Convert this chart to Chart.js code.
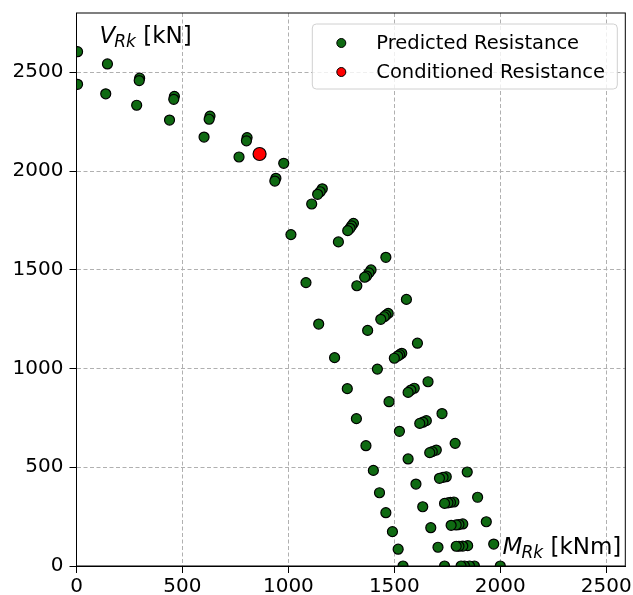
<!DOCTYPE html>
<html>
<head>
<meta charset="utf-8">
<script src="https://cdn.jsdelivr.net/npm/chart.js@4"></script>
<style>
  html, body { margin: 0; padding: 0; background: #fff; }
  #wrap { width: 633px; height: 595px; }
</style>
</head>
<body>
<div id="wrap"><canvas id="chart"></canvas></div>
<script>
// M_Rk [kNm] / V_Rk [kN]
const predictedM = [
  5, 5, 146, 138, 298, 296, 284, 462, 459, 439, 630, 626, 602, 805, 802, 767, 978, 941, 936,
  1160, 1150, 1138, 1110, 1012, 1307, 1298, 1291, 1280, 1236, 1460, 1390, 1380, 1369, 1360,
  1323, 1083, 1557, 1471, 1460, 1452, 1436, 1143, 1374, 1609, 1535, 1525, 1516, 1500, 1218,
  1420, 1659, 1594, 1578, 1565, 1278, 1475, 1725, 1651, 1635, 1620, 1321, 1524, 1787, 1698,
  1679, 1667, 1366, 1565, 1844, 1745, 1730, 1713, 1401, 1602, 1430, 1893, 1781, 1765, 1753,
  1737, 1634, 1460, 1934, 1823, 1805, 1792, 1768, 1672, 1491, 1969, 1846, 1823, 1805, 1792,
  1706, 1518, 2000, 1878, 1855, 1831, 1815, 1737, 1541
]
const predictedV = [
  2604, 2439, 2542, 2391, 2470, 2458, 2333, 2378, 2363, 2258, 2278, 2262, 2172, 2169, 2153, 2071, 2039, 1963, 1949,
  1910, 1895, 1882, 1833, 1678, 1735, 1722, 1710, 1698, 1641, 1563, 1499, 1484, 1468, 1462,
  1419, 1435, 1350, 1279, 1270, 1262, 1249, 1225, 1193, 1128, 1077, 1070, 1063, 1052, 1055,
  997, 933, 900, 891, 879, 898, 832, 772, 736, 728, 722, 746, 682, 621, 587,
  579, 574, 609, 542, 476, 452, 449, 444, 484, 415, 371, 348, 324, 322, 320,
  317, 300, 270, 224, 213, 210, 208, 206, 194, 174, 111, 103, 101, 100, 100,
  95, 85, 0, 0, 0, 0, 0, 0, 0
]
const conditionedM = [864]
const conditionedV = [2086]

const xTicks = [0, 500, 1000, 1500, 2000, 2500]
const yTicks = [0, 500, 1000, 1500, 2000, 2500]

const legendLabels = ['Predicted Resistance', 'Conditioned Resistance']

const FONT = '"DejaVu Sans", sans-serif'

function toPoints(xs, ys) {
  return xs.map((x, i) => ({ x: x, y: ys[i] }))
}

// italic symbol + italic subscript + upright unit
function drawMathLabel(ctx, x, y, main, sub, rest, size, alignRight) {
  ctx.save()
  ctx.fillStyle = '#000'
  ctx.textBaseline = 'alphabetic'
  ctx.textAlign = 'left'
  const mainFont = 'italic ' + size + 'px ' + FONT
  const subFont = 'italic ' + Math.round(size * 0.72) + 'px ' + FONT
  const restFont = size + 'px ' + FONT
  ctx.font = mainFont
  const wMain = ctx.measureText(main).width
  ctx.font = subFont
  const wSub = ctx.measureText(sub).width
  ctx.font = restFont
  const wRest = ctx.measureText(rest).width
  let cx = alignRight ? x - (wMain + wSub + wRest - 1) : x
  ctx.font = mainFont
  ctx.fillText(main, cx, y)
  cx += wMain - 1
  ctx.font = subFont
  ctx.fillText(sub, cx, y + 4)
  cx += wSub
  ctx.font = restFont
  ctx.fillText(rest, cx, y)
  ctx.restore()
}

const decorations = {
  id: 'decorations',
  afterDraw(chart) {
    const ctx = chart.ctx
    const a = chart.chartArea

    // frame
    ctx.save()
    ctx.strokeStyle = '#000'
    ctx.lineWidth = 1
    ctx.strokeRect(a.left, a.top, a.right - a.left, a.bottom - a.top)
    ctx.restore()

    // legend
    const lw = 305, lh = 65
    const lx = a.right - 8 - lw, ly = a.top + 11
    ctx.save()
    ctx.beginPath()
    ctx.roundRect(lx, ly, lw, lh, 4)
    ctx.fillStyle = 'rgba(255,255,255,0.8)'
    ctx.fill()
    ctx.strokeStyle = '#d0d0d0'
    ctx.lineWidth = 1
    ctx.stroke()
    chart.data.datasets.forEach((ds, i) => {
      const rowY = ly + 19 + i * 29
      ctx.beginPath()
      ctx.arc(lx + 29, rowY, 4.5, 0, Math.PI * 2)
      ctx.fillStyle = ds.backgroundColor
      ctx.fill()
      ctx.strokeStyle = ds.borderColor
      ctx.lineWidth = 1
      ctx.stroke()
      ctx.fillStyle = '#000'
      ctx.font = '19.5px ' + FONT
      ctx.textBaseline = 'middle'
      ctx.textAlign = 'left'
      ctx.fillText(ds.label, lx + 64, rowY + 1)
    })
    ctx.restore()

    // axis titles inside the plot
    drawMathLabel(ctx, a.left + 23, a.top + 30, 'V', 'Rk', ' [kN]', 23, false)
    drawMathLabel(ctx, a.right - 4, a.bottom - 12, 'M', 'Rk', ' [kNm]', 23, true)
  }
}

const gridStyle = {
  color: '#b0b0b0',
  lineWidth: 1,
  tickColor: '#000',
  tickLength: 7,
  tickBorderDash: [],
  tickWidth: 1
}

const chart = new Chart(document.getElementById('chart'), {
  type: 'scatter',
  data: {
    datasets: [
      {
        label: legendLabels[0],
        data: toPoints(predictedM, predictedV),
        backgroundColor: '#0f6a12',
        borderColor: '#000',
        borderWidth: 1.2,
        pointRadius: 5,
        clip: 0
      },
      {
        label: legendLabels[1],
        data: toPoints(conditionedM, conditionedV),
        backgroundColor: '#ff0000',
        borderColor: '#000',
        borderWidth: 1.2,
        pointRadius: 6.5,
        clip: 0
      }
    ]
  },
  options: {
    responsive: true,
    maintainAspectRatio: false,
    animation: false,
    events: [],
    layout: { padding: { left: 0, right: 2, top: 13, bottom: 0 } },
    plugins: {
      legend: { display: false },
      tooltip: { enabled: false }
    },
    scales: {
      x: {
        type: 'linear',
        min: 0,
        max: 2590,
        afterBuildTicks: (axis) => { axis.ticks = xTicks.map(v => ({ value: v })) },
        afterFit: (axis) => {
          axis.height = 29
          axis.paddingLeft = 0
          axis.paddingRight = 0
        },
        ticks: {
          color: '#000',
          font: { family: FONT, size: 20 },
          padding: 2,
          callback: (v) => String(v)
        },
        grid: gridStyle,
        border: { display: true, color: '#000', width: 1, dash: [4, 2.5] }
      },
      y: {
        type: 'linear',
        min: 0,
        max: 2800,
        afterBuildTicks: (axis) => { axis.ticks = yTicks.map(v => ({ value: v })) },
        afterFit: (axis) => {
          axis.width = 76.5
          axis.paddingTop = 0
          axis.paddingBottom = 0
        },
        ticks: {
          color: '#000',
          font: { family: FONT, size: 20 },
          padding: 6,
          callback: (v) => String(v)
        },
        grid: gridStyle,
        border: { display: true, color: '#000', width: 1, dash: [4, 2.5] }
      }
    }
  },
  plugins: [decorations]
})
</script>
</body>
</html>
